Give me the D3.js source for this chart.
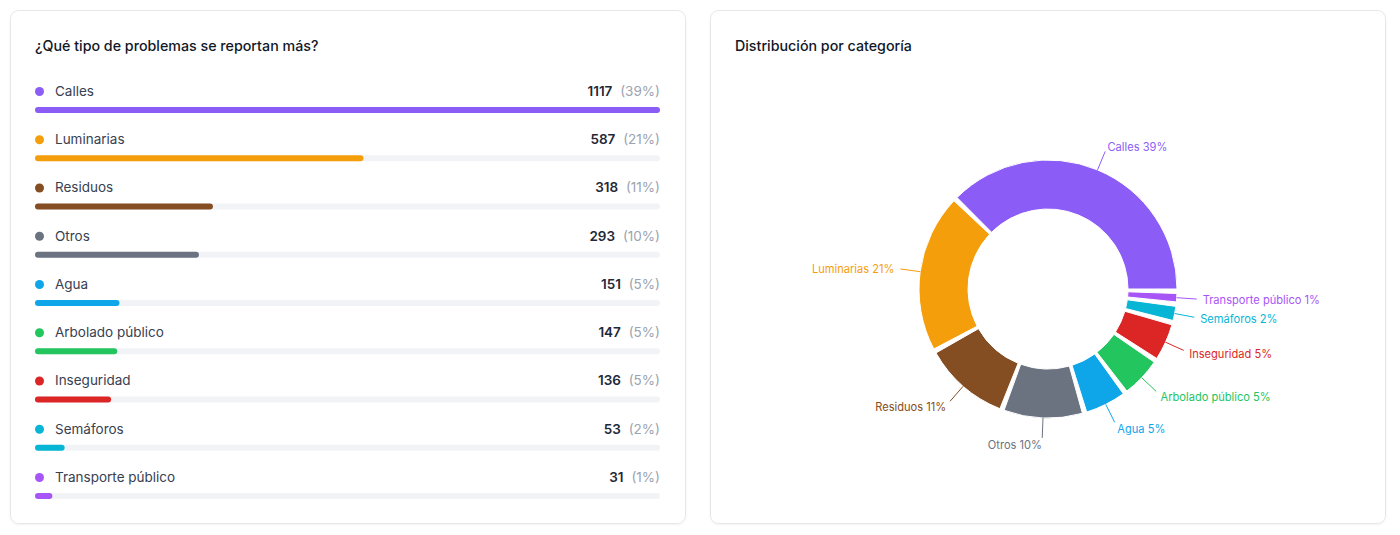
<!DOCTYPE html>
<html>
<head>
<meta charset="utf-8">
<script src="https://cdn.jsdelivr.net/npm/d3@7"></script>
<style>
  html, body { margin: 0; padding: 0; background: #ffffff; }
  body { width: 1400px; height: 535px; overflow: hidden; font-family: Inter, "Noto Sans", sans-serif; }
  svg { display: block; }
</style>
</head>
<body>
<svg id="chart" width="1400" height="535"></svg>
<script>
// ---- data ----
const categories = ["Calles", "Luminarias", "Residuos", "Otros", "Agua", "Arbolado público", "Inseguridad", "Semáforos", "Transporte público"];
const counts = [1117, 587, 318, 293, 151, 147, 136, 53, 31];
const percents = [39, 21, 11, 10, 5, 5, 5, 2, 1];
const colors = ["#8b5cf6", "#f59e0b", "#854d22", "#6b7280", "#0ea5e9", "#22c55e", "#dc2626", "#06b6d4", "#a855f7"];
const leftTitle = "¿Qué tipo de problemas se reportan más?";
const rightTitle = "Distribución por categoría";

const rows = categories.map((c, i) => ({ name: c, value: counts[i], pct: percents[i], color: colors[i] }));

const svg = d3.select("#chart");

// ---- cards ----
const defs = svg.append("defs");
const f = defs.append("filter").attr("id", "sh").attr("x", "-5%").attr("y", "-5%").attr("width", "110%").attr("height", "110%");
f.append("feDropShadow").attr("dx", 0).attr("dy", 1).attr("stdDeviation", 1).attr("flood-color", "#000").attr("flood-opacity", 0.05);

[[10.5, 10.5], [710.5, 10.5]].forEach(([x, y]) => {
  svg.append("rect").attr("x", x).attr("y", y).attr("width", 675).attr("height", 513)
    .attr("rx", 8).attr("fill", "#fff").attr("stroke", "#e5e7eb").attr("filter", "url(#sh)");
});

svg.append("text").attr("x", 35).attr("y", 51).text(leftTitle)
  .attr("font-size", 14.25).attr("font-weight", 500).attr("fill", "#111827");
svg.append("text").attr("x", 735).attr("y", 51).text(rightTitle)
  .attr("font-size", 14.25).attr("font-weight", 500).attr("fill", "#111827");

// ---- left: bar list ----
const left = 35, right = 660;
const yRow = d3.scalePoint().domain(categories).range([91, 477]);
const xBar = d3.scaleLinear().domain([0, d3.max(counts)]).range([0, right - left]);

const g = svg.append("g");
const row = g.selectAll("g.row").data(rows).join("g").attr("class", "row")
  .attr("transform", d => `translate(0,${yRow(d.name)})`);

row.append("circle").attr("cx", 39.5).attr("cy", 0.5).attr("r", 4.5).attr("fill", d => d.color);
row.append("text").attr("x", 55).attr("y", 0).attr("dy", "0.36em")
  .attr("font-size", 13.5).attr("fill", "#374151").text(d => d.name);

const vt = row.append("text").attr("x", right).attr("y", 0).attr("dy", "0.36em")
  .attr("text-anchor", "end").attr("font-size", 13.5);
vt.append("tspan").attr("font-weight", 600).attr("fill", "#1f2937").text(d => d.value);
vt.append("tspan").attr("dx", 4).attr("fill", "#9ca3af").text(d => ` (${d.pct}%)`);

row.append("rect").attr("x", left).attr("y", 16).attr("width", right - left).attr("height", 6)
  .attr("rx", 3).attr("fill", "#f1f3f7");
row.append("rect").attr("x", left).attr("y", 16).attr("width", d => xBar(d.value)).attr("height", 6)
  .attr("rx", 3).attr("fill", d => d.color);

// ---- right: donut ----
const cx = 1048, cy = 289, rOuter = 129, rInner = 80;
const padDeg = 2;
const total = d3.sum(counts);
const avail = 360 - rows.length * padDeg;
const pie = d3.pie().sort(null).value(d => d.value)
  .startAngle(0).endAngle(avail * Math.PI / 180).padAngle(0);
// Recharts-like layout: counterclockwise from 3 o'clock, fixed angular gap after each slice
const arcs = pie(rows).map((a, i) => {
  const s = a.startAngle * 180 / Math.PI + i * padDeg;
  const e = a.endAngle * 180 / Math.PI + i * padDeg;
  return { data: a.data, s, e, mid: (s + e) / 2 };
});
const toD3 = deg => (90 - deg) * Math.PI / 180;

const arcGen = d3.arc().innerRadius(rInner).outerRadius(rOuter);
const dg = svg.append("g").attr("transform", `translate(${cx},${cy})`);
dg.selectAll("path.slice").data(arcs).join("path").attr("class", "slice")
  .attr("d", d => arcGen({ startAngle: toD3(d.e), endAngle: toD3(d.s) }))
  .attr("fill", d => d.data.color).attr("stroke", "#fff").attr("stroke-width", 1);

const pt = (deg, r) => [r * Math.cos(deg * Math.PI / 180), -r * Math.sin(deg * Math.PI / 180)];
dg.selectAll("line.lead").data(arcs).join("line").attr("class", "lead")
  .attr("x1", d => pt(d.mid, rOuter)[0]).attr("y1", d => pt(d.mid, rOuter)[1])
  .attr("x2", d => pt(d.mid, rOuter + 20)[0]).attr("y2", d => pt(d.mid, rOuter + 20)[1])
  .attr("stroke", d => d.data.color).attr("stroke-width", 1);
dg.selectAll("text.lab").data(arcs).join("text").attr("class", "lab")
  .attr("x", d => pt(d.mid, rOuter + 26)[0]).attr("y", d => pt(d.mid, rOuter + 26)[1] + 1)
  .attr("dy", "0.36em")
  .attr("text-anchor", d => pt(d.mid, 1)[0] >= 0 ? "start" : "end")
  .attr("font-size", 11.1).attr("fill", d => d.data.color)
  .text(d => `${d.data.name} ${d.data.pct}%`);
</script>
</body>
</html>
